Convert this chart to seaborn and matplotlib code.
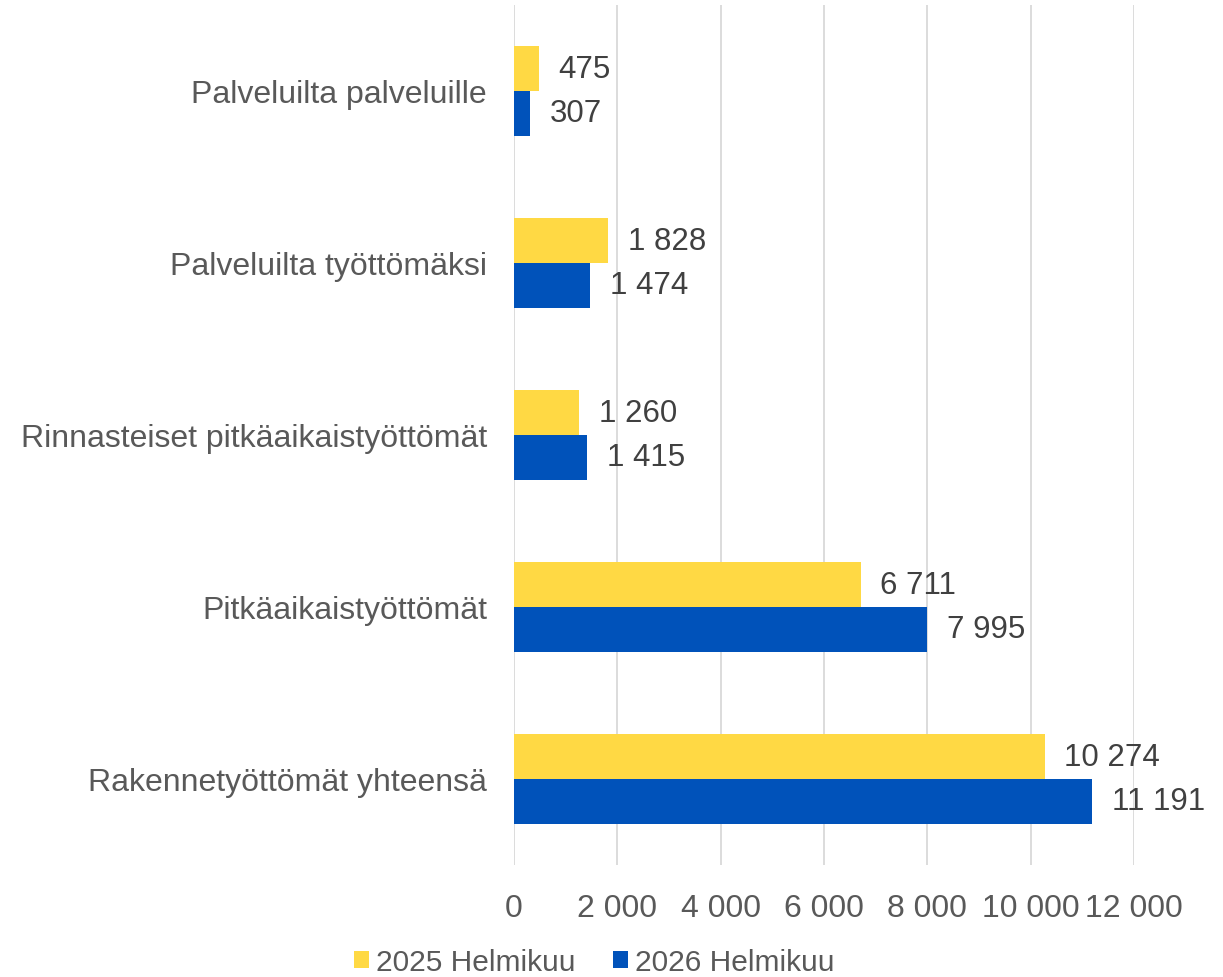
import pandas as pd
import seaborn as sns
import matplotlib.pyplot as plt
from matplotlib.ticker import FuncFormatter

# Data (top to bottom)
categories = ["Palveluilta palveluille", "Palveluilta työttömäksi",
              "Rinnasteiset pitkäaikaistyöttömät", "Pitkäaikaistyöttömät",
              "Rakennetyöttömät yhteensä"]
values_2025 = [475, 1828, 1260, 6711, 10274]
values_2026 = [307, 1474, 1415, 7995, 11191]
series = ["2025 Helmikuu", "2026 Helmikuu"]

df = pd.DataFrame({
    "Kategoria": categories * 2,
    "Arvo": values_2025 + values_2026,
    "Sarja": [series[0]] * len(categories) + [series[1]] * len(categories),
})

def fmt(v):
    return f"{int(v):,}".replace(",", " ")

sns.set_style("white")
plt.rcParams["font.family"] = ["Liberation Sans", "DejaVu Sans"]

fig = plt.figure(figsize=(12.23, 9.78), dpi=100)
ax = fig.add_axes([514 / 1223, 1 - 866 / 978, (1134 - 514) / 1223, 860 / 978])

sns.barplot(data=df, y="Kategoria", x="Arvo", hue="Sarja", order=categories,
            hue_order=series, palette=["#FFD944", "#0052BA"], width=0.52,
            orient="h", ax=ax, saturation=1, linewidth=0, legend=True)

for cont in ax.containers:
    ax.bar_label(cont, labels=[fmt(v) for v in cont.datavalues], padding=14,
                 fontsize=22.5, color="#404040")

ax.set_xlim(0, 12000)
ax.set_xticks(range(0, 12001, 2000))
ax.xaxis.set_major_formatter(FuncFormatter(lambda v, p: fmt(v)))
ax.grid(axis="x", color="#D9D9D9", linewidth=1.3)
ax.set_axisbelow(True)
for s in ax.spines.values():
    s.set_visible(False)
ax.tick_params(axis="both", length=0, labelsize=23, labelcolor="#595959")
ax.tick_params(axis="x", pad=20)
ax.tick_params(axis="y", pad=19.5)
ax.set_xlabel("")
ax.set_ylabel("")

ax.legend(loc="center", bbox_to_anchor=(594 / 1223, 1 - 963 / 978),
          bbox_transform=fig.transFigure, ncol=2, frameon=False,
          fontsize=21.5, labelcolor="#595959", handlelength=0.52,
          handleheight=0.52, handletextpad=0.22, columnspacing=1.25)

fig.savefig("out.png", dpi=100)
